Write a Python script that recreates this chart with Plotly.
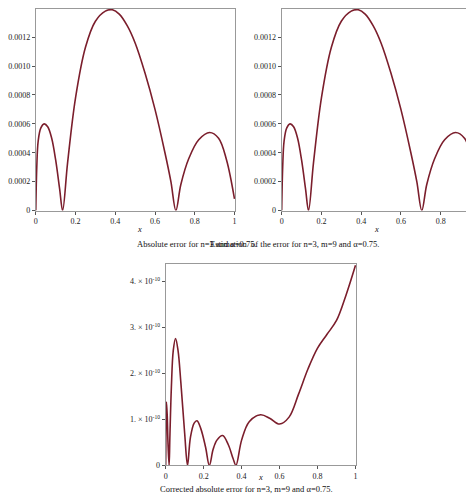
import plotly.graph_objects as go

x1 = [0, 0.005, 0.012, 0.025, 0.042, 0.06, 0.08, 0.1, 0.12, 0.135, 0.16, 0.2, 0.25, 0.3, 0.35, 0.385, 0.42, 0.46, 0.5, 0.55, 0.6, 0.65, 0.68, 0.705, 0.73, 0.77, 0.82, 0.875, 0.92, 0.96, 1.0]
y1 = [0, 0.0003, 0.00048, 0.00057, 0.0006, 0.00058, 0.0005, 0.00035, 0.00015, 0, 0.00033, 0.00078, 0.00113, 0.00131, 0.00138, 0.00139, 0.00136, 0.00128, 0.00116, 0.00095, 0.0007, 0.0004, 0.0002, 0, 0.00018, 0.00036, 0.00049, 0.00054, 0.0005, 0.00035, 0.00008]
x2 = x1
y2 = y1
x3 = [0, 0.002, 0.004, 0.008, 0.012, 0.018, 0.022, 0.03, 0.04, 0.052, 0.065, 0.08, 0.1, 0.115, 0.13, 0.15, 0.165, 0.185, 0.21, 0.23, 0.25, 0.27, 0.3, 0.33, 0.355, 0.37, 0.4, 0.44, 0.5, 0.55, 0.6, 0.65, 0.7, 0.75, 0.8, 0.85, 0.9, 0.95, 1.0]
y3 = [0, 1.0e-10, 1.38e-10, 1.1e-10, 0.5e-10, 0, 0.6e-10, 1.7e-10, 2.5e-10, 2.76e-10, 2.5e-10, 1.8e-10, 0.7e-10, 0, 0.6e-10, 0.92e-10, 0.97e-10, 0.8e-10, 0.4e-10, 0, 0.35e-10, 0.55e-10, 0.65e-10, 0.45e-10, 0.15e-10, 0, 0.55e-10, 0.95e-10, 1.1e-10, 1.02e-10, 0.9e-10, 1.05e-10, 1.55e-10, 2.1e-10, 2.55e-10, 2.85e-10, 3.15e-10, 3.7e-10, 4.35e-10]

ytick1 = [0, 0.0002, 0.0004, 0.0006, 0.0008, 0.0010, 0.0012]
ylab1 = ["0", "0.0002", "0.0004", "0.0006", "0.0008", "0.0010", "0.0012"]
ytick3 = [0, 1e-10, 2e-10, 3e-10, 4e-10]
ylab3 = ["0", "1. × 10<sup>-10</sup>", "2. × 10<sup>-10</sup>", "3. × 10<sup>-10</sup>", "4. × 10<sup>-10</sup>"]
xtick = [0, 0.2, 0.4, 0.6, 0.8, 1]
xlab = ["0", "0.2", "0.4", "0.6", "0.8", "1"]

col = "#7b1e2c"
ln = dict(color=col, width=1.6, shape="spline", smoothing=1.0)
fig = go.Figure()
fig.add_trace(go.Scatter(x=x1, y=y1, mode="lines", line=ln, xaxis="x", yaxis="y"))
fig.add_trace(go.Scatter(x=x2, y=y2, mode="lines", line=ln, xaxis="x2", yaxis="y2"))
fig.add_trace(go.Scatter(x=x3, y=y3, mode="lines", line=ln, xaxis="x3", yaxis="y3"))

W, H = 474, 498
def xd(a, b): return [a / W, b / W]
def yd(top, bot): return [1 - bot / H, 1 - top / H]

ax = dict(showline=True, mirror=True, linecolor="#999", linewidth=1, ticks="outside", ticklen=3,
          tickcolor="#555", showgrid=False, zeroline=False, tickfont=dict(size=8, family="Liberation Serif", color="#222"))
fig.update_layout(
    width=W, height=H, showlegend=False, plot_bgcolor="white", paper_bgcolor="white",
    margin=dict(l=0, r=0, t=0, b=0),
    font=dict(family="Liberation Serif"),
    xaxis=dict(ax, domain=xd(25, 226), range=[0, 1.003], tickvals=xtick, ticktext=xlab, anchor="y"),
    yaxis=dict(ax, domain=yd(0, 204), range=[0, 0.001395], tickvals=ytick1, ticktext=ylab1, anchor="x"),
    xaxis2=dict(ax, domain=xd(273, 474), range=[0, 1.003], tickvals=xtick, ticktext=xlab, anchor="y2"),
    yaxis2=dict(ax, domain=yd(0, 204), range=[0, 0.001395], tickvals=ytick1, ticktext=ylab1, anchor="x2"),
    xaxis3=dict(ax, domain=xd(156, 348), range=[0, 1.003], tickvals=xtick, ticktext=xlab, anchor="y3"),
    yaxis3=dict(ax, domain=yd(258, 462), range=[0, 4.38e-10], tickvals=ytick3, ticktext=ylab3, anchor="x3"),
)
ann = [
    (125, 223, "<i>x</i>"), (125, 238, "Absolute error for n=3 and α=0.75."),
    (373, 223, "<i>x</i>"), (373, 238, "Estimation  of the error for n=3, m=9 and α=0.75."),
    (252, 481, "<i>x</i>"), (237, 493, "Corrected absolute error for n=3, m=9 and α=0.75."),
]
for px, py, t in ann:
    fig.add_annotation(x=px / W, y=1 - py / H, xref="paper", yref="paper", text=t, showarrow=False,
                       font=dict(size=8.5, family="Liberation Serif", color="#111"))
fig.write_html("out.html")
